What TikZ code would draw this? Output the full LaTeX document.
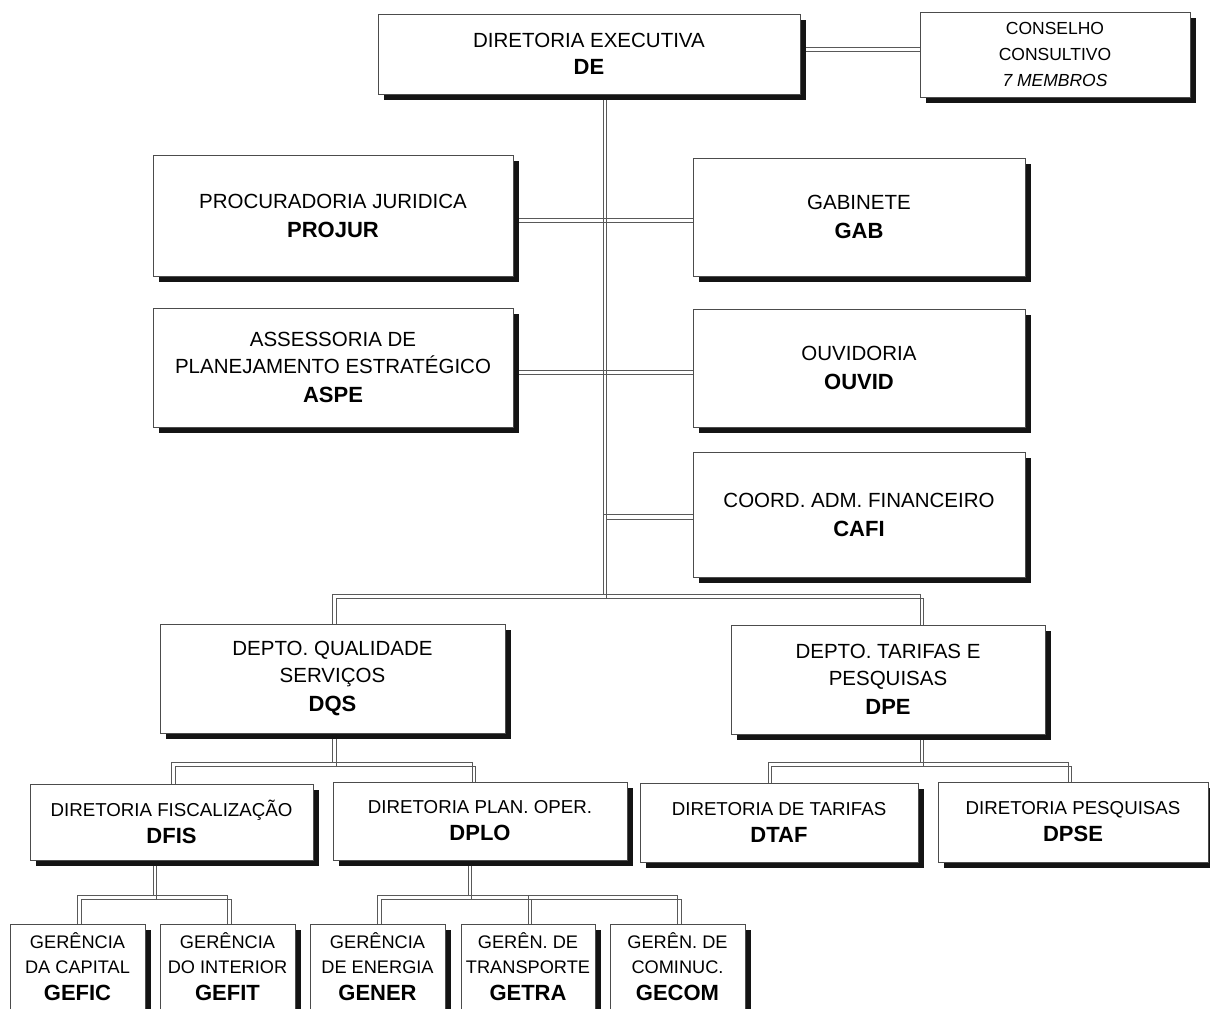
\documentclass[tikz,border=0pt]{standalone}
\usepackage{fontspec}
\setmainfont{Liberation Sans}
\usetikzlibrary{shadows,backgrounds}

% a connector is a pair of thin strokes: the path and a copy shifted down-right
\newcommand\twinline[1]{%
  \draw[link] #1;
  \draw[link, transform canvas={shift={(3.5pt,-4.5pt)}}] #1;}
\newcommand\abbr[1]{{\fontsize{22}{27}\selectfont\bfseries #1}}

\begin{document}
\begin{tikzpicture}[x=1pt,y=-1pt,
  box/.style={draw=black!70, line width=0.9pt, fill=white, inner sep=0pt, align=center,
    drop shadow={shadow xshift=6pt, shadow yshift=-6pt, opacity=1, fill=black!92}},
  big/.style={font=\fontsize{20.5}{27}\selectfont},
  mid/.style={font=\fontsize{18.7}{25}\selectfont},
  small/.style={font=\fontsize{18.2}{25}\selectfont},
  link/.style={draw=black!65, line width=1pt}]

\useasboundingbox (0,0) rectangle (1210,1009);
\clip (0,0) rectangle (1210,1009);

% ---------- top level ----------
\node[box,big,minimum width=422pt,minimum height=80pt] (de) at (589,54)
  {DIRETORIA EXECUTIVA\\\abbr{DE}};
\node[box,font=\fontsize{17.5}{26}\selectfont,minimum width=270pt,minimum height=85pt] (cons) at (1055,54.5)
  {CONSELHO\\CONSULTIVO\\\textit{7 MEMBROS}};

% ---------- staff units ----------
\node[box,big,minimum width=360pt,minimum height=121pt] (projur) at (333,215.5)
  {PROCURADORIA JURIDICA\\[2pt]\abbr{PROJUR}};
\node[box,big,minimum width=332pt,minimum height=118pt] (gab) at (859,217)
  {GABINETE\\[2pt]\abbr{GAB}};
\node[box,big,minimum width=360pt,minimum height=119pt] (aspe) at (333,367.5)
  {ASSESSORIA DE\\PLANEJAMENTO ESTRATÉGICO\\[2pt]\abbr{ASPE}};
\node[box,big,minimum width=332pt,minimum height=118pt] (ouvid) at (859,368)
  {OUVIDORIA\\[2pt]\abbr{OUVID}};
\node[box,big,minimum width=332pt,minimum height=125pt] (cafi) at (859,514.5)
  {COORD. ADM. FINANCEIRO\\[2pt]\abbr{CAFI}};

% ---------- departments ----------
\node[box,big,minimum width=345pt,minimum height=109pt] (dqs) at (332.5,678.5)
  {DEPTO. QUALIDADE\\SERVIÇOS\\[2pt]\abbr{DQS}};
\node[box,big,minimum width=314pt,minimum height=109pt] (dpe) at (888,679.5)
  {DEPTO. TARIFAS E\\PESQUISAS\\[2pt]\abbr{DPE}};

% ---------- directorates ----------
\node[box,mid,minimum width=283pt,minimum height=76pt] (dfis) at (171.5,822)
  {DIRETORIA FISCALIZAÇÃO\\[2pt]\abbr{DFIS}};
\node[box,mid,minimum width=294pt,minimum height=78pt] (dplo) at (480,821)
  {DIRETORIA PLAN. OPER.\\[2pt]\abbr{DPLO}};
\node[box,mid,minimum width=278pt,minimum height=79pt] (dtaf) at (779,822.5)
  {DIRETORIA DE TARIFAS\\[2pt]\abbr{DTAF}};
\node[box,mid,minimum width=270pt,minimum height=80pt] (dpse) at (1073,822)
  {DIRETORIA PESQUISAS\\[2pt]\abbr{DPSE}};

% ---------- managements ----------
\node[box,small,minimum width=135pt,minimum height=86pt] (gefic) at (77.5,967)
  {GERÊNCIA\\DA CAPITAL\\[2pt]\abbr{GEFIC}};
\node[box,small,minimum width=135pt,minimum height=86pt] (gefit) at (227.5,967)
  {GERÊNCIA\\DO INTERIOR\\[2pt]\abbr{GEFIT}};
\node[box,small,minimum width=135pt,minimum height=86pt] (gener) at (377.5,967)
  {GERÊNCIA\\DE ENERGIA\\[2pt]\abbr{GENER}};
\node[box,small,minimum width=134pt,minimum height=86pt] (getra) at (528,967)
  {GERÊN. DE\\TRANSPORTE\\[2pt]\abbr{GETRA}};
\node[box,small,minimum width=135pt,minimum height=86pt] (gecom) at (677.5,967)
  {GERÊN. DE\\COMINUC.\\[2pt]\abbr{GECOM}};

% ---------- junction lines ----------
\coordinate (yCons) at (0,47);
\coordinate (xTrunk) at (603,0);
\coordinate (yProj) at (0,218);
\coordinate (yAspe) at (0,370);
\coordinate (yBus) at (0,594);
\coordinate (xDpe) at (920,0);
\coordinate (ySubA) at (0,762);
\coordinate (xDplo) at (472,0);
\coordinate (xDtaf) at (768,0);
\coordinate (xDpse) at (1068,0);
\coordinate (ySubB) at (0,895);
\coordinate (xDfisDown) at (153,0);
\coordinate (xDploDown) at (468,0);

\begin{pgfonlayer}{background}
  \twinline{(de.east |- yCons) -- (cons.west |- yCons)}
  \twinline{(de.south -| xTrunk) -- (xTrunk |- yBus)}
  \twinline{(projur.east |- yProj) -- (gab.west |- yProj)}
  \twinline{(aspe.east |- yAspe) -- (ouvid.west |- yAspe)}
  \twinline{(cafi.west -| xTrunk) -- (cafi.west)}
  \twinline{(dqs.north) -- (dqs.north |- yBus) -- (xDpe |- yBus) -- (dpe.north -| xDpe)}
  % below DQS
  \twinline{(dqs.south) -- (dqs.south |- ySubA)}
  \twinline{(dfis.north) -- (dfis.north |- ySubA) -- (xDplo |- ySubA) -- (dplo.north -| xDplo)}
  % below DPE
  \twinline{(dpe.south -| xDpe) -- (xDpe |- ySubA)}
  \twinline{(dtaf.north -| xDtaf) -- (xDtaf |- ySubA) -- (xDpse |- ySubA) -- (dpse.north -| xDpse)}
  % below DFIS
  \twinline{(dfis.south -| xDfisDown) -- (xDfisDown |- ySubB)}
  \twinline{(gefic.north) -- (gefic.north |- ySubB) -- (gefit.north |- ySubB) -- (gefit.north)}
  % below DPLO
  \twinline{(dplo.south -| xDploDown) -- (xDploDown |- ySubB)}
  \twinline{(gener.north) -- (gener.north |- ySubB) -- (gecom.north |- ySubB) -- (gecom.north)}
  \twinline{(getra.north) -- (getra.north |- ySubB)}
\end{pgfonlayer}
\end{tikzpicture}
\end{document}
